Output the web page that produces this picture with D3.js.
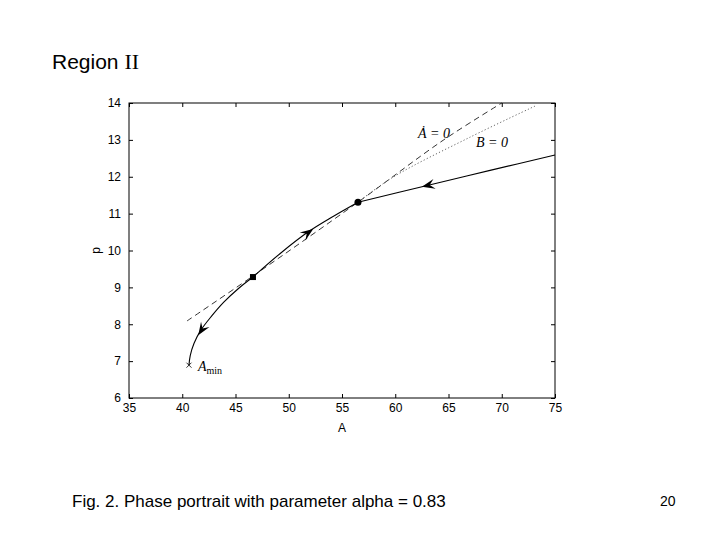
<!DOCTYPE html>
<html>
<head>
<meta charset="utf-8">
<style>
  body { margin: 0; background: #fff; }
  svg { display: block; }
</style>
</head>
<body>
<svg width="720" height="540"></svg>
<script src="https://cdn.jsdelivr.net/npm/d3@7"></script>
<script>
// axis ticks
var xTicks = [35, 40, 45, 50, 55, 60, 65, 70, 75];
var yTicks = [6, 7, 8, 9, 10, 11, 12, 13, 14];

// nullclines
var nullA_A = [40.45, 46.6, 56.5, 64.5, 70.0];
var nullA_p = [8.09, 9.3, 11.31, 12.99, 14.0];
var nullB_A = [56.5, 59.8, 67.0, 73.3];
var nullB_p = [11.31, 11.99, 13.07, 13.94];

// trajectories
var trajIn_A = [75, 69, 63.1, 56.5];
var trajIn_p = [12.59, 12.18, 11.77, 11.31];
var trajUp_A = [46.64, 49.2, 51.8, 54.2, 56.5];
var trajUp_p = [9.28, 9.92, 10.5, 10.93, 11.31];
var trajDown_A = [46.64, 45.2, 43.9, 42.75, 41.75, 41.1, 40.75, 40.63];
var trajDown_p = [9.28, 8.95, 8.6, 8.22, 7.84, 7.48, 7.15, 6.89];

// arrowheads: tip and a point behind it on the curve
var arrowTipA = [62.5, 52.3, 41.5];
var arrowTipP = [11.73, 10.58, 7.7];
var arrowFromA = [64.0, 50.8, 42.1];
var arrowFromP = [11.83, 10.28, 7.97];

// equilibria and A_min
var circlePt = [56.5, 11.31];
var squarePt = [46.64, 9.28];
var aminPt = [40.63, 6.89];

var svg = d3.select("svg");
var margin = {top: 103, right: 165, bottom: 142, left: 129};
var width = 720 - margin.left - margin.right,
    height = 540 - margin.top - margin.bottom;

var x = d3.scaleLinear().domain([35, 75]).range([margin.left, margin.left + width]);
var y = d3.scaleLinear().domain([6, 14]).range([margin.top + height, margin.top]);

var font = "'Liberation Sans', Arial, Helvetica, sans-serif";
var serif = "'Liberation Serif', 'Times New Roman', serif";

// title
var title = svg.append("text").attr("x", 52).attr("y", 69)
  .attr("font-family", font).attr("font-size", 21).attr("fill", "#000");
title.append("tspan").text("Region ");
title.append("tspan").attr("font-family", serif).attr("font-size", 22).text("II");

// axes with inward ticks on all sides
svg.append("g").attr("transform", "translate(0," + (margin.top + height) + ")")
  .call(d3.axisBottom(x).tickValues(xTicks).tickSizeInner(-4).tickSizeOuter(0).tickPadding(8))
  .call(function(g) {
    g.select(".domain").remove();
    g.selectAll("text").attr("font-family", font).attr("font-size", 12).attr("dy", "0.5em");
  });
svg.append("g").attr("transform", "translate(0," + margin.top + ")")
  .call(d3.axisTop(x).tickValues(xTicks).tickSizeInner(-4).tickSizeOuter(0).tickFormat(""))
  .call(function(g) { g.select(".domain").remove(); });
svg.append("g").attr("transform", "translate(" + margin.left + ",0)")
  .call(d3.axisLeft(y).tickValues(yTicks).tickSizeInner(-4).tickSizeOuter(0).tickPadding(8))
  .call(function(g) {
    g.select(".domain").remove();
    g.selectAll("text").attr("font-family", font).attr("font-size", 12);
  });
svg.append("g").attr("transform", "translate(" + (margin.left + width) + ",0)")
  .call(d3.axisRight(y).tickValues(yTicks).tickSizeInner(-4).tickSizeOuter(0).tickFormat(""))
  .call(function(g) { g.select(".domain").remove(); });

svg.selectAll(".tick line").attr("stroke", "#000");

svg.append("rect")
  .attr("x", margin.left).attr("y", margin.top)
  .attr("width", width).attr("height", height)
  .attr("fill", "none").attr("stroke", "#000").attr("stroke-width", 1);

// axis labels
svg.append("text").attr("x", x(55)).attr("y", 432)
  .attr("text-anchor", "middle").attr("font-family", font).attr("font-size", 12).text("A");
svg.append("text").attr("transform", "translate(100," + y(10) + ") rotate(-90)")
  .attr("text-anchor", "middle").attr("font-family", font).attr("font-size", 12).text("p");

var curve = d3.line().curve(d3.curveCatmullRom).x(function(d) { return x(d[0]); }).y(function(d) { return y(d[1]); });

function zip(a, b) { return a.map(function(v, i) { return [v, b[i]]; }); }

// nullclines
svg.append("path").datum(zip(nullA_A, nullA_p)).attr("d", curve)
  .attr("fill", "none").attr("stroke", "#000").attr("stroke-width", 0.8).attr("stroke-dasharray", "6,4");
svg.append("path").datum(zip(nullB_A, nullB_p)).attr("d", curve)
  .attr("fill", "none").attr("stroke", "#555").attr("stroke-width", 0.9).attr("stroke-dasharray", "1.2,2.2");

// trajectories
[zip(trajIn_A, trajIn_p), zip(trajUp_A, trajUp_p), zip(trajDown_A, trajDown_p)].forEach(function(t) {
  svg.append("path").datum(t).attr("d", curve)
    .attr("fill", "none").attr("stroke", "#000").attr("stroke-width", 1.1);
});

// arrowheads
arrowTipA.forEach(function(a, i) {
  var tx = x(a), ty = y(arrowTipP[i]);
  var fx = x(arrowFromA[i]), fy = y(arrowFromP[i]);
  var ang = Math.atan2(ty - fy, tx - fx) * 180 / Math.PI;
  svg.append("path")
    .attr("d", "M0,0 L-13,-5 L-8,0 L-13,5 Z")
    .attr("transform", "translate(" + tx + "," + ty + ") rotate(" + ang + ")")
    .attr("fill", "#000");
});

// equilibria
svg.append("circle").attr("cx", x(circlePt[0])).attr("cy", y(circlePt[1])).attr("r", 3.5).attr("fill", "#000");
svg.append("rect").attr("x", x(squarePt[0]) - 3).attr("y", y(squarePt[1]) - 3)
  .attr("width", 6).attr("height", 6).attr("fill", "#000");

// A_min marker
var mx = x(aminPt[0]), my = y(aminPt[1]);
svg.append("path").attr("d", "M" + (mx - 2.5) + "," + (my - 2.5) + "L" + (mx + 2.5) + "," + (my + 2.5) +
  "M" + (mx - 2.5) + "," + (my + 2.5) + "L" + (mx + 2.5) + "," + (my - 2.5))
  .attr("stroke", "#000").attr("stroke-width", 0.8);
var amin = svg.append("text").attr("x", mx + 9).attr("y", my + 6)
  .attr("font-family", serif).attr("font-size", 14).attr("font-style", "italic");
amin.append("tspan").text("A");
amin.append("tspan").attr("dy", 3).attr("font-size", 10).attr("font-style", "normal").text("min");

// nullcline labels
svg.append("text").attr("x", 418).attr("y", 138)
  .attr("font-family", serif).attr("font-size", 14).attr("font-style", "italic")
  .text("\u0226 = 0");
svg.append("text").attr("x", 476).attr("y", 147)
  .attr("font-family", serif).attr("font-size", 14).attr("font-style", "italic")
  .text("B = 0");

// caption and page number
svg.append("text").attr("x", 72).attr("y", 507)
  .attr("font-family", font).attr("font-size", 17).text("Fig. 2. Phase portrait with parameter alpha = 0.83");
svg.append("text").attr("x", 660).attr("y", 506)
  .attr("font-family", font).attr("font-size", 14).text("20");
</script>
</body>
</html>
